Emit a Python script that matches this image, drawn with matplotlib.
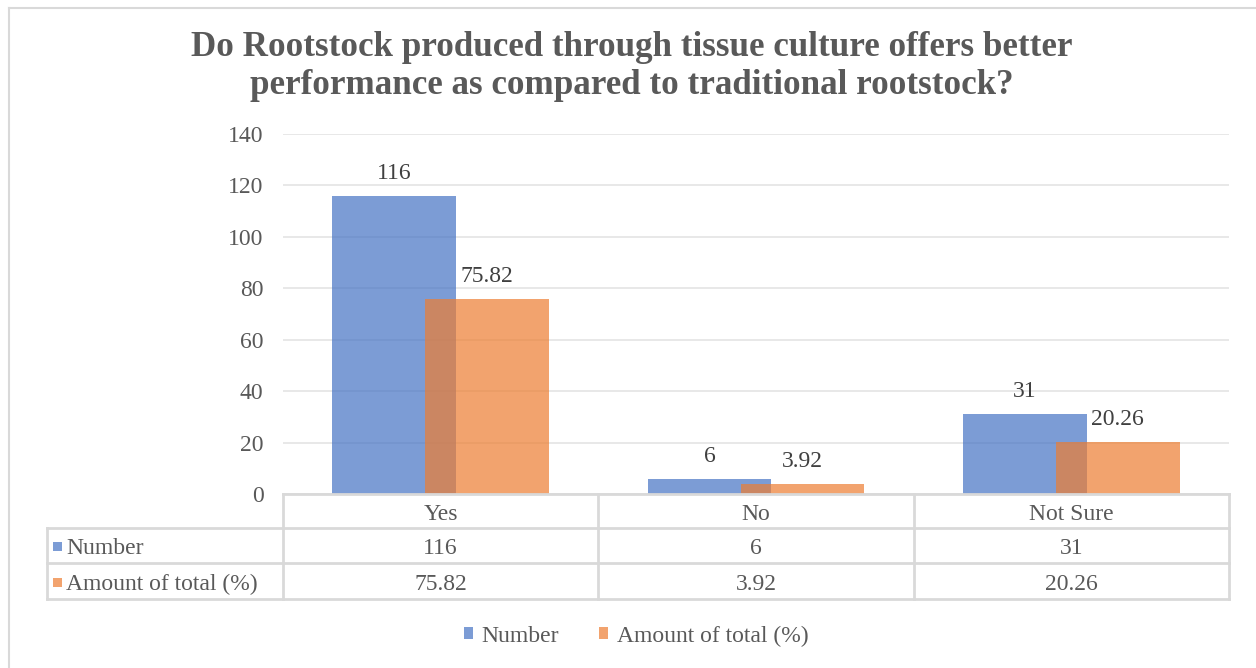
import matplotlib
matplotlib.use("Agg")
import matplotlib.pyplot as plt
from matplotlib.patches import Patch, Rectangle
from matplotlib.lines import Line2D

categories = ["Yes", "No", "Not Sure"]
number = [116, 6, 31]
amount_pct = [75.82, 3.92, 20.26]
number_labels = ["116", "6", "31"]
amount_labels = ["75.82", "3.92", "20.26"]
series_names = ["Number", "Amount of total (%)"]
yticks = [0, 20, 40, 60, 80, 100, 120, 140]
title = "Do Rootstock produced through tissue culture offers better\nperformance as compared to traditional rootstock?"

W, H = 1256, 668
plt.rcParams['font.family'] = ['Liberation Serif', 'DejaVu Serif']
TXT = "#595959"
GRID = "#e4e4e4"
LINE = "#d9d9d9"
BLUE = "#4472C4"
ORANGE = "#ED7D31"
ALPHA = 0.7

fig = plt.figure(figsize=(W / 100, H / 100), dpi=100)

def fx(px):
    return px / W

def fy(py):
    return 1 - py / H

# plot area
x0, x1, ytop, ybot = 283, 1229, 134, 494
ax = fig.add_axes([fx(x0), fy(ybot), fx(x1) - fx(x0), fy(ytop) - fy(ybot)])
ax.set_xlim(-0.5, len(categories) - 0.5)
ax.set_ylim(0, 140)
ax.set_yticks(yticks)
ax.set_yticklabels([str(v) for v in yticks], fontsize=17, color=TXT)
ax.tick_params(axis='y', length=0, pad=14)
ax.set_xticks([])
for s in ax.spines.values():
    s.set_visible(False)
ax.grid(axis='y', color=GRID, lw=1.2)
ax.set_axisbelow(True)

bw = 0.393
off = 0.1475
xs = list(range(len(categories)))
b1 = ax.bar([x - off for x in xs], number, width=bw, color=BLUE, alpha=ALPHA, zorder=2)
b2 = ax.bar([x + off for x in xs], amount_pct, width=bw, color=ORANGE, alpha=ALPHA, zorder=3)
for x, v, lab in zip(xs, number, number_labels):
    ax.annotate(lab, (x - off, v), xytext=(0, 8.5), textcoords='offset points',
                ha='center', va='bottom', fontsize=17, color="#404040")
for x, v, lab in zip(xs, amount_pct, amount_labels):
    ax.annotate(lab, (x + off, v), xytext=(0, 8.5), textcoords='offset points',
                ha='center', va='bottom', fontsize=17, color="#404040")

# title
fig.text(fx(632), fy(67), title, ha='center', va='center', fontsize=25.2,
         fontweight='bold', color=TXT, linespacing=1.2)

# data table (drawn in figure pixel coords)
rows_y = [494, 528, 563, 599]
col_x = [x0 + (x1 - x0) * i / len(categories) for i in range(len(categories) + 1)]
tl = 47

def hline(y, xa, xb):
    fig.add_artist(Line2D([fx(xa), fx(xb)], [fy(y), fy(y)], color=LINE, lw=2))

def vline(x, ya, yb):
    fig.add_artist(Line2D([fx(x), fx(x)], [fy(ya), fy(yb)], color=LINE, lw=2))

hline(rows_y[0], x0, x1)
for y in rows_y[1:]:
    hline(y, tl, x1)
for x in col_x:
    vline(x, rows_y[0], rows_y[-1])
vline(tl, rows_y[1], rows_y[-1])

dy = 3
for i, cat in enumerate(categories):
    cx = (col_x[i] + col_x[i + 1]) / 2
    fig.text(fx(cx), fy((rows_y[0] + rows_y[1]) / 2 + dy), cat, ha='center', va='center',
             fontsize=17, color=TXT)
    fig.text(fx(cx), fy((rows_y[1] + rows_y[2]) / 2 + dy), number_labels[i], ha='center',
             va='center', fontsize=17, color=TXT)
    fig.text(fx(cx), fy((rows_y[2] + rows_y[3]) / 2 + dy), amount_labels[i], ha='center',
             va='center', fontsize=17, color=TXT)

for r, (name, col) in enumerate(zip(series_names, [BLUE, ORANGE])):
    yc = (rows_y[r + 1] + rows_y[r + 2]) / 2 + 1
    fig.add_artist(Rectangle((fx(53), fy(yc + 4.5)), fx(9), 9 / H, color=col, alpha=ALPHA, lw=0))
    fig.text(fx(66), fy(yc + 2), name, ha='left', va='center', fontsize=17, color=TXT)

# legend
handles = [Patch(color=BLUE, alpha=ALPHA, lw=0), Patch(color=ORANGE, alpha=ALPHA, lw=0)]
fig.legend(handles, series_names, loc='center', bbox_to_anchor=(fx(636), fy(636)),
           ncol=2, frameon=False, fontsize=17, labelcolor=TXT,
           handlelength=0.4, handleheight=0.4, handletextpad=0.35, columnspacing=1.7)

# chart frame (partially visible)
fig.add_artist(Line2D([fx(9), fx(9)], [fy(8), 0], color=LINE, lw=1.5))
fig.add_artist(Line2D([fx(9), 1], [fy(8), fy(8)], color=LINE, lw=1.5))

fig.savefig("out.png", dpi=100)
